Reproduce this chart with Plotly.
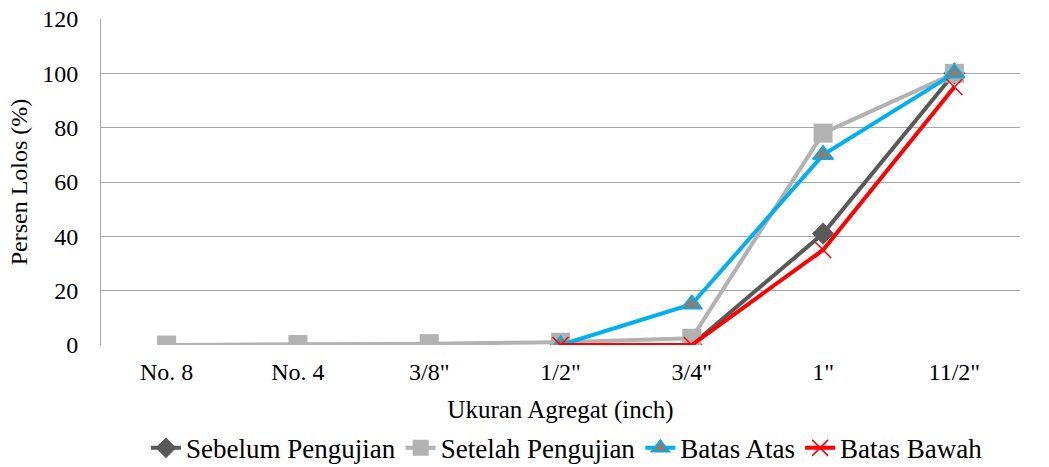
import plotly.graph_objects as go

# Sieve sizes on the x axis
categories = ["No. 8", "No. 4", "3/8\"", "1/2\"", "3/4\"", "1\"", "11/2\""]

# Percent passing for each gradation
sebelum_x = ["1/2\"", "3/4\"", "1\"", "11/2\""]
sebelum = [0, 0, 41, 100]

setelah_x = categories
setelah = [0, 0.2, 0.5, 1, 2.5, 78, 100]

atas_x = ["1/2\"", "3/4\"", "1\"", "11/2\""]
batas_atas = [0, 15, 70, 100]

bawah_x = ["1/2\"", "3/4\"", "1\"", "11/2\""]
batas_bawah = [0, 0, 35, 95]

FONT = "Liberation Serif"
GRID = "#a6a6a6"

fig = go.Figure()

fig.add_trace(go.Scatter(
    x=sebelum_x, y=sebelum, name="Sebelum Pengujian", mode="lines+markers",
    line=dict(color="#595959", width=4),
    marker=dict(symbol="diamond", size=17, color="#595959"),
))
fig.add_trace(go.Scatter(
    x=setelah_x, y=setelah, name="Setelah Pengujian", mode="lines+markers",
    line=dict(color="#b2b2b2", width=4),
    marker=dict(symbol="square", size=19, color="#b2b2b2"),
))
fig.add_trace(go.Scatter(
    x=atas_x, y=batas_atas, name="Batas Atas", mode="lines+markers",
    line=dict(color="#00b0f0", width=4),
    marker=dict(symbol="triangle-up", size=18, color="#7f7f7f",
                line=dict(color="#00b0f0", width=1.5)),
))
fig.add_trace(go.Scatter(
    x=bawah_x, y=batas_bawah, name="Batas Bawah", mode="lines+markers",
    line=dict(color="#ff0000", width=4),
    marker=dict(symbol="x-thin", size=16, color="#ff0000",
                line=dict(color="#ff0000", width=1.5)),
))

fig.update_layout(
    template="none",
    width=1049, height=467,
    margin=dict(l=101, r=29, t=19, b=122),
    paper_bgcolor="white", plot_bgcolor="white",
    font=dict(family=FONT, size=24, color="black"),
    showlegend=True,
    legend=dict(orientation="h", x=0.507, xanchor="center",
                yref="container", y=0.04, yanchor="middle",
                font=dict(family=FONT, size=27, color="black"),
                itemwidth=30, bgcolor="rgba(0,0,0,0)"),
    xaxis=dict(
        type="category", categoryorder="array", categoryarray=categories,
        range=[-0.5, 6.5], showgrid=False, zeroline=False, showline=False,
        ticks="", tickfont=dict(family=FONT, size=24, color="black"), automargin=False,
        ticklabelstandoff=10,
        title=dict(text="Ukuran Agregat (inch)", font=dict(family=FONT, size=25, color="black"),
                   standoff=16),
    ),
    yaxis=dict(
        range=[0, 120], dtick=20, showgrid=True, gridcolor=GRID, gridwidth=1,
        zeroline=False, showline=True, linecolor=GRID, linewidth=1,
        ticks="", tickfont=dict(family=FONT, size=24, color="black"), automargin=False,
        ticklabelstandoff=17,
        title=dict(text="Persen Lolos (%)", font=dict(family=FONT, size=24, color="black"),
                   standoff=7),
    ),
)

fig.write_html("out.html")
